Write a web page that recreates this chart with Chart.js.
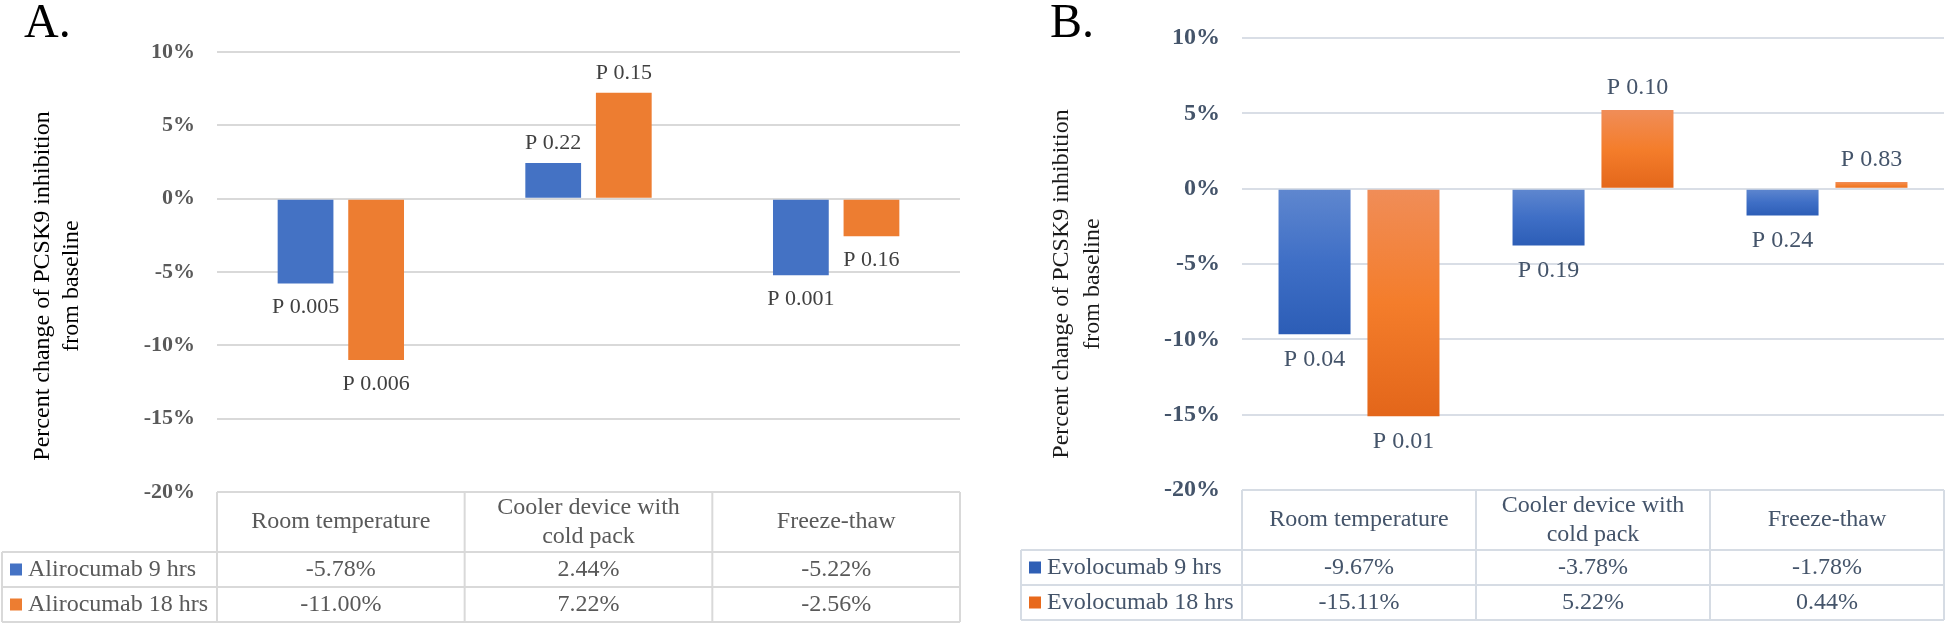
<!DOCTYPE html>
<html>
<head>
<meta charset="utf-8">
<script src="https://cdn.jsdelivr.net/npm/chart.js@4/dist/chart.umd.min.js"></script>
<style>
  html, body { margin: 0; padding: 0; background: #ffffff; }
  .panel { position: absolute; top: 0; width: 973px; height: 625px; }
  #panelA { left: 0; }
  #panelB { left: 973px; }
</style>
</head>
<body>
<div class="panel" id="panelA"><canvas id="chartA" width="973" height="625"></canvas></div>
<div class="panel" id="panelB"><canvas id="chartB" width="973" height="625"></canvas></div>
<script>
// categories shared by both panels (array = wrapped header lines)
const categories = [["Room temperature"], ["Cooler device with", "cold pack"], ["Freeze-thaw"]];
const yTicks = [10, 5, 0, -5, -10, -15, -20];

// panel A - alirocumab
const aliroSeries = ["Alirocumab 9 hrs", "Alirocumab 18 hrs"];
const aliro9 = [-5.78, 2.44, -5.22];
const aliro18 = [-11.0, 7.22, -2.56];
const aliro9P = ["P 0.005", "P 0.22", "P 0.001"];
const aliro18P = ["P 0.006", "P 0.15", "P 0.16"];

// panel B - evolocumab
const evoloSeries = ["Evolocumab 9 hrs", "Evolocumab 18 hrs"];
const evolo9 = [-9.67, -3.78, -1.78];
const evolo18 = [-15.11, 5.22, 0.44];
const evolo9P = ["P 0.04", "P 0.19", "P 0.24"];
const evolo18P = ["P 0.01", "P 0.10", "P 0.83"];

const yAxisTitle = ["Percent change of PCSK9 inhibition", "from baseline"];

const SERIF = "'Liberation Serif', 'Times New Roman', serif";

// vertical gradient per bar, light at top, dark at bottom
const barGradient = (stops, fallback) => (c) => {
  const chart = c.chart;
  if (!chart.chartArea || c.type !== "data") return fallback;
  const y = chart.scales.y;
  const y0 = y.getPixelForValue(0);
  const y1 = y.getPixelForValue(c.raw);
  const g = chart.ctx.createLinearGradient(0, Math.min(y0, y1), 0, Math.max(y0, y1) + 0.5);
  stops.forEach((s, i) => g.addColorStop(i / (stops.length - 1), s));
  return g;
};

const panelDecor = {
  id: "panelDecor",
  afterDatasetsDraw(chart, args, o) {
    const ctx = chart.ctx;
    ctx.save();
    ctx.font = o.pFontSize + "px " + SERIF;
    ctx.fillStyle = o.pColor;
    ctx.textAlign = "center";
    ctx.textBaseline = "middle";
    chart.data.datasets.forEach((ds, d) => {
      const meta = chart.getDatasetMeta(d);
      meta.data.forEach((bar, i) => {
        const v = ds.data[i];
        const y = v >= 0 ? bar.y - o.pAbove : bar.y + o.pBelow;
        ctx.fillText(ds.pLabels[i], bar.x, y);
      });
    });
    ctx.restore();
  },
  afterDraw(chart, args, o) {
    const ctx = chart.ctx;
    const area = chart.chartArea;
    const xs = chart.scales.x;
    ctx.save();

    // panel letter
    ctx.fillStyle = "#000000";
    ctx.font = "48px " + SERIF;
    ctx.textAlign = "left";
    ctx.textBaseline = "alphabetic";
    ctx.fillText(o.letter, o.letterX, 37);

    // y axis title
    ctx.save();
    ctx.translate(o.titleX, o.titleY);
    ctx.rotate(-Math.PI / 2);
    ctx.font = "24px " + SERIF;
    ctx.fillStyle = o.titleColor;
    ctx.textAlign = "center";
    ctx.textBaseline = "middle";
    yAxisTitle.forEach((line, k) => ctx.fillText(line, 0, k * o.titleGap));
    ctx.restore();

    // data table under the plot
    const top = area.bottom;
    const hdrBot = top + 60;
    const r1 = hdrBot + 35;
    const r2 = r1 + 35;
    const n = chart.data.labels.length;
    const edges = [area.left];
    for (let i = 0; i < n - 1; i++) {
      edges.push((xs.getPixelForValue(i) + xs.getPixelForValue(i + 1)) / 2);
    }
    edges.push(area.right);

    ctx.strokeStyle = o.lineColor;
    ctx.lineWidth = 2;
    const line = (x1, y1, x2, y2) => {
      ctx.beginPath();
      ctx.moveTo(x1, y1);
      ctx.lineTo(x2, y2);
      ctx.stroke();
    };
    line(area.left, top, area.right, top);
    [hdrBot, r1, r2].forEach((y) => line(o.legendLeft, y, area.right, y));
    edges.forEach((e) => line(e, top, e, r2));
    line(o.legendLeft, hdrBot, o.legendLeft, r2);

    ctx.font = "24px " + SERIF;
    ctx.fillStyle = o.textColor;
    ctx.textAlign = "center";
    ctx.textBaseline = "middle";
    chart.data.labels.forEach((lbl, i) => {
      const cx = (edges[i] + edges[i + 1]) / 2;
      const mid = top + 30;
      lbl.forEach((t, k) => ctx.fillText(t, cx, mid + (k - (lbl.length - 1) / 2) * 29));
    });

    const rowMid = [hdrBot + 17.5, r1 + 17.5];
    chart.data.datasets.forEach((ds, d) => {
      const y = rowMid[d];
      ctx.fillStyle = ds.swatch;
      ctx.fillRect(o.legendLeft + 8, y - 6, 12, 12);
      ctx.fillStyle = o.textColor;
      ctx.textAlign = "left";
      ctx.fillText(ds.label, o.legendLeft + 26, y);
      ctx.textAlign = "center";
      ds.data.forEach((v, i) => {
        const cx = (edges[i] + edges[i + 1]) / 2;
        ctx.fillText(v.toFixed(2) + "%", cx, y);
      });
    });
    ctx.restore();
  },
};

const makePanel = (canvasId, s) => {
  new Chart(document.getElementById(canvasId), {
    type: "bar",
    data: {
      labels: categories,
      datasets: [
        {
          label: s.series[0],
          data: s.values[0],
          pLabels: s.pLabels[0],
          swatch: s.swatch[0],
          backgroundColor: s.fill[0],
          categoryPercentage: s.catPct,
          barPercentage: s.barPct,
        },
        {
          label: s.series[1],
          data: s.values[1],
          pLabels: s.pLabels[1],
          swatch: s.swatch[1],
          backgroundColor: s.fill[1],
          categoryPercentage: s.catPct,
          barPercentage: s.barPct,
        },
      ],
    },
    options: {
      responsive: false,
      animation: false,
      layout: {
        padding: { left: 0, right: s.padRight, top: s.top, bottom: 625 - s.bottom },
      },
      plugins: {
        legend: { display: false },
        tooltip: { enabled: false },
        panelDecor: s.decor,
      },
      scales: {
        x: { display: false },
        y: {
          min: Math.min(...yTicks),
          max: Math.max(...yTicks),
          afterFit: (scale) => {
            scale.width = s.left;
          },
          afterBuildTicks: (scale) => {
            scale.ticks = yTicks.map((v) => ({ value: v }));
          },
          border: { display: false },
          grid: { color: s.gridColor, lineWidth: 2, drawTicks: false },
          ticks: {
            padding: 22,
            color: s.tickColor,
            font: { family: SERIF, size: s.tickSize, weight: "bold" },
            callback: (v) => v + "%",
          },
        },
      },
    },
    plugins: [panelDecor],
  });
};

makePanel("chartA", {
  series: aliroSeries,
  values: [aliro9, aliro18],
  pLabels: [aliro9P, aliro18P],
  swatch: ["#4472c4", "#ed7d31"],
  fill: ["#4472c4", "#ed7d31"],
  catPct: 0.57,
  barPct: 0.79,
  left: 217,
  padRight: 13,
  top: 52,
  bottom: 492,
  gridColor: "#d9d9d9",
  tickColor: "#595959",
  tickSize: 22,
  decor: {
    letter: "A.",
    letterX: 24,
    titleX: 43,
    titleY: 286,
    titleGap: 29,
    titleColor: "#000000",
    legendLeft: 2,
    lineColor: "#d9d9d9",
    textColor: "#595959",
    pColor: "#404040",
    pFontSize: 22,
    pAbove: 20,
    pBelow: 24,
  },
});

makePanel("chartB", {
  series: evoloSeries,
  values: [evolo9, evolo18],
  pLabels: [evolo9P, evolo18P],
  swatch: ["#2f5fb5", "#e8691c"],
  fill: [
    barGradient(["#5f87cf", "#3f6fc6", "#2c5db6"], "#4472c4"),
    barGradient(["#f08d58", "#f47d2b", "#e3661a"], "#ed7d31"),
  ],
  catPct: 0.76,
  barPct: 0.81,
  left: 269,
  padRight: 2,
  top: 38,
  bottom: 490,
  gridColor: "#d9dee6",
  tickColor: "#44546a",
  tickSize: 24,
  decor: {
    letter: "B.",
    letterX: 77,
    titleX: 89,
    titleY: 284,
    titleGap: 31,
    titleColor: "#1a1a1a",
    legendLeft: 48,
    lineColor: "#d6dce4",
    textColor: "#44546a",
    pColor: "#44546a",
    pFontSize: 24,
    pAbove: 22,
    pBelow: 25,
  },
});
</script>
</body>
</html>
